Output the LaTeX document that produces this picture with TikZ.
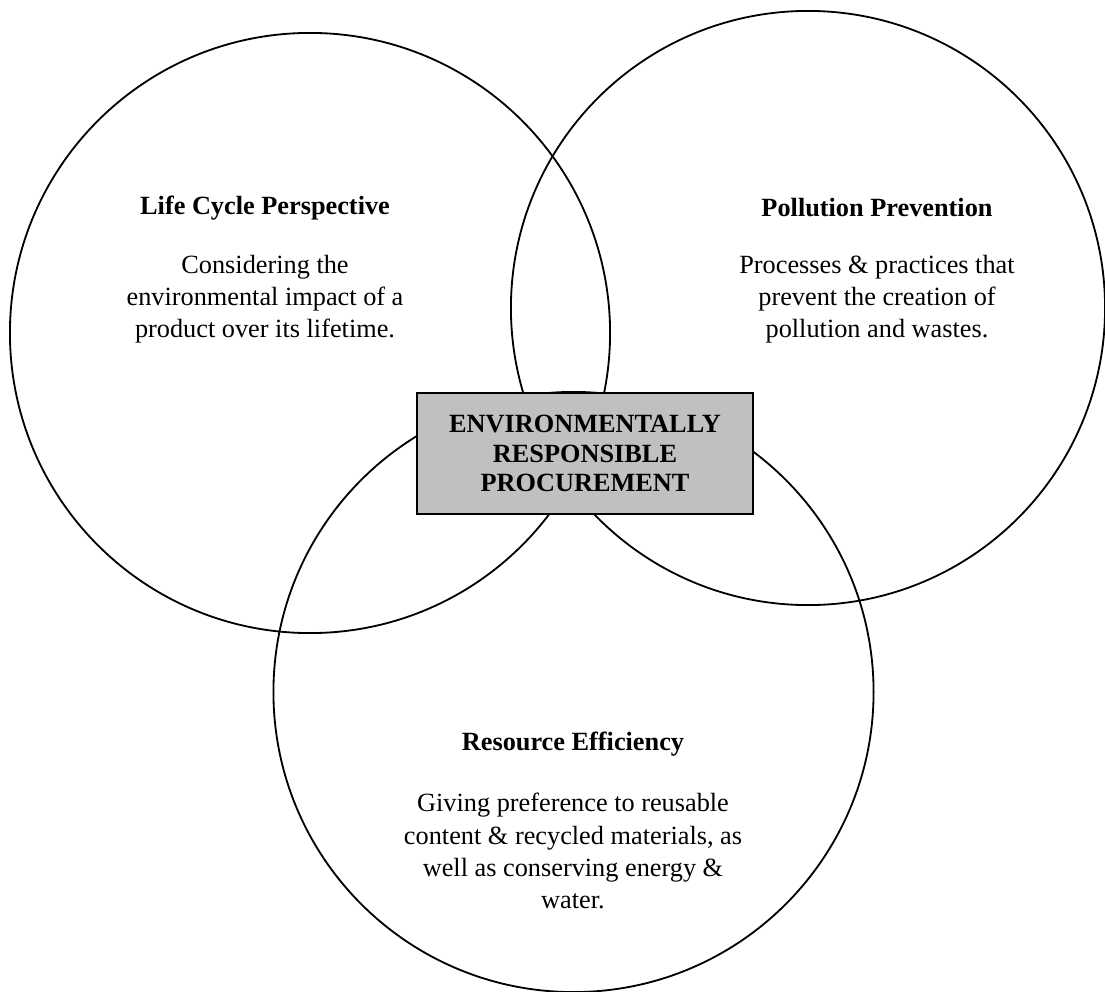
\documentclass[tikz,border=0pt]{standalone}
\usepackage{fontspec}
\setmainfont{Liberation Serif}
\begin{document}
\begin{tikzpicture}[x=0.025cm,y=-0.025cm,
  ring/.style={draw=black,line width=1.3pt},
  erpbox/.style={draw=black,line width=1.3pt,fill=boxgray,minimum width=8.4cm,minimum height=3.025cm,inner sep=0pt,align=center,font=\fontsize{18.7}{21}\selectfont\bfseries},
  ttl/.style={align=center,font=\fontsize{18.7}{22.5}\selectfont\bfseries},
  body/.style={align=center,font=\fontsize{18.7}{22.8}\selectfont}]
\definecolor{boxgray}{HTML}{C0C0C0}
\useasboundingbox (0,0) rectangle (1105,992);
\coordinate (cl) at (310,333);
\coordinate (cr) at (808,308);
\coordinate (cb) at (573.5,692);
\draw[ring] (cl) circle[radius=7.5cm];
\draw[ring] (cr) circle[radius=7.425cm];
\draw[ring] (cb) circle[radius=7.5cm];
\node[erpbox] (erp) at (585,453.5) {ENVIRONMENTALLY\\RESPONSIBLE\\PROCUREMENT};
\node[ttl] (lt) at (265,208) {Life Cycle Perspective};
\node[body] (lb) at (265,299) {Considering the\\environmental impact of a\\product over its lifetime.};
\node[ttl] (rt) at (877,208) {Pollution Prevention};
\node[body] (rb) at (877,299) {Processes \& practices that\\prevent the creation of\\pollution and wastes.};
\node[ttl] (bt) at (573,744) {Resource Efficiency};
\node[body] (bb) at (573,851) {Giving preference to reusable\\content \& recycled materials, as\\well as conserving energy \&\\water.};
\end{tikzpicture}
\end{document}
